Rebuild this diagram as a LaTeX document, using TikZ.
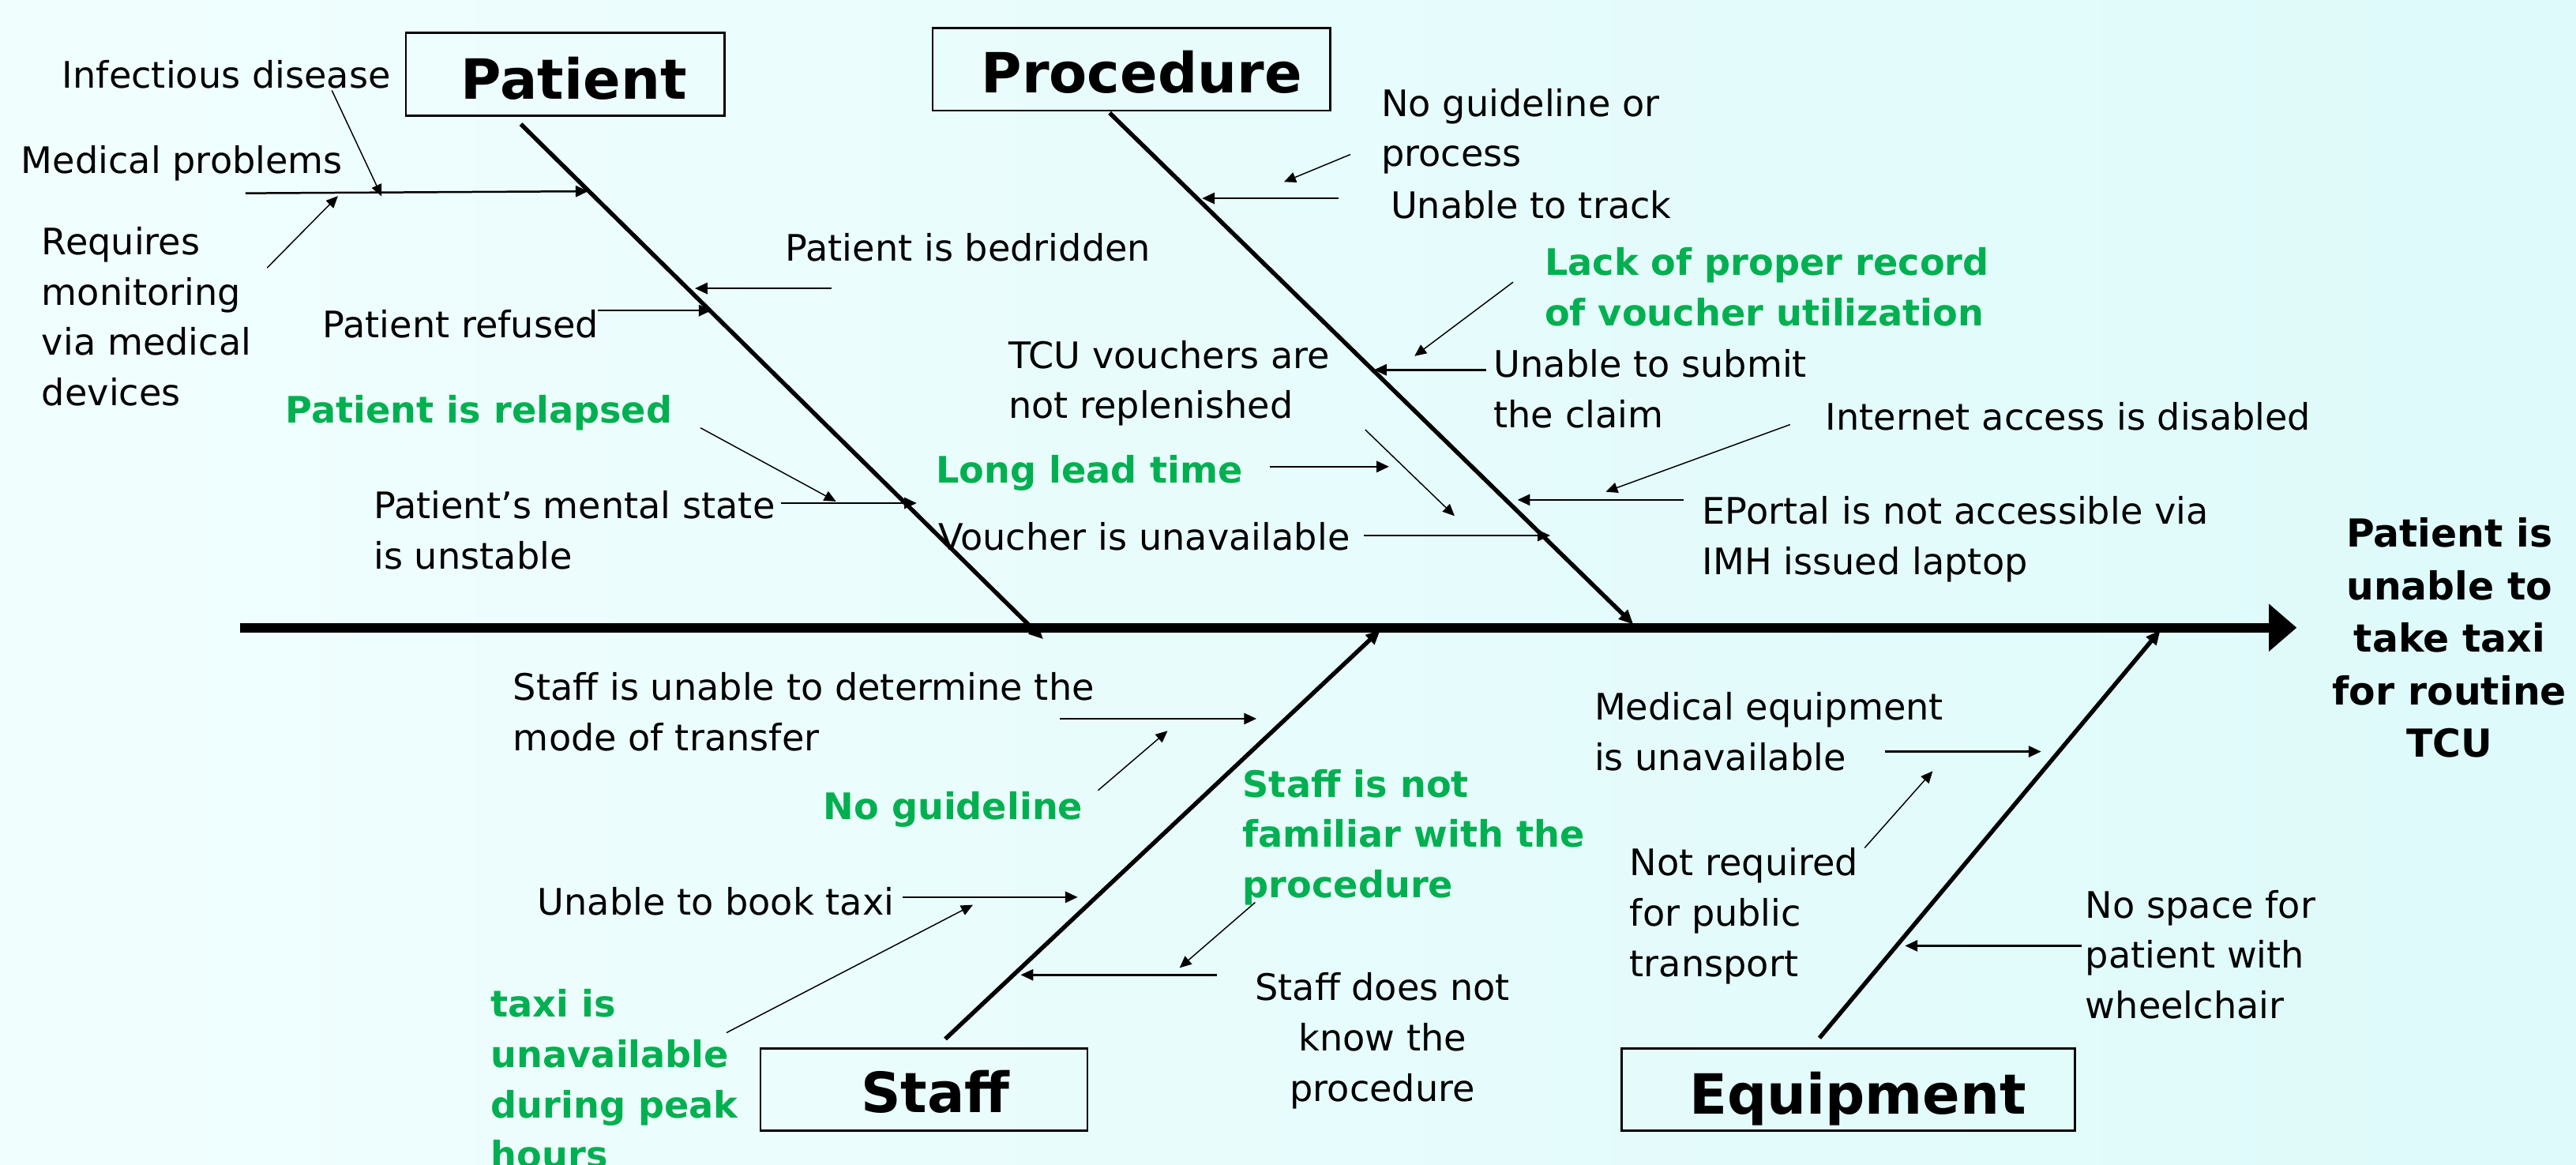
\documentclass[tikz,border=0pt]{standalone}
\usepackage{fontspec}
\setmainfont{DejaVu Sans}
\usetikzlibrary{arrows.meta}
\definecolor{causegreen}{RGB}{0,176,80}
\definecolor{bgleft}{RGB}{241,254,254}
\definecolor{bgright}{RGB}{222,250,250}
% multi-line labels whose base anchor is the first baseline
\newcommand{\leftlines}[1]{\begin{tabular}[t]{@{}l@{}}#1\end{tabular}}
\newcommand{\centerlines}[1]{\begin{tabular}[t]{@{}c@{}}#1\end{tabular}}

\begin{document}
\begin{tikzpicture}[x=0.5mm,y=-0.5mm,
  lbl/.style={inner sep=0pt, anchor=base west, font=\fontsize{31.6}{43.6}\selectfont},
  keylbl/.style={lbl, font=\bfseries\fontsize{31.6}{43.6}\selectfont, text=causegreen},
  catbox/.style={draw, line width=0.6mm, inner sep=0pt},
  cattitle/.style={inner sep=0pt, anchor=base, font=\bfseries\fontsize{48}{58}\selectfont},
  effect/.style={inner sep=0pt, anchor=base, font=\bfseries\fontsize{33.4}{45.5}\selectfont},
  spine/.style={line width=2.9mm, -{Triangle[length=8.5mm,width=14mm]}},
  bone/.style={line width=1.3mm, -{Triangle[length=4.4mm,width=3.8mm]}},
  subarrow/.style={line width=0.6mm, -{Triangle[length=3.8mm,width=3.4mm]}},
  twig/.style={line width=0.35mm, -{Triangle[length=3.6mm,width=3.2mm]}},
]
\useasboundingbox (0,0) rectangle (1568,709);
\clip (0,0) rectangle (1568,709);
\fill[left color=bgleft, right color=bgright] (0,0) rectangle (1568,709);

% ---------- spine and effect ----------
\coordinate (tail) at (146,382);
\coordinate (head) at (1398,382);
\draw[spine] (tail) -- (head);
\node[effect] (effect) at (1491,333) {\centerlines{Patient is\\unable to\\take taxi\\for routine\\TCU}};

% ---------- category boxes ----------
\node[catbox, minimum width=97mm, minimum height=25.2mm] (patientbox) at (344,45.2) {};
\node[cattitle] (patientlbl) at (349.3,60.4) {Patient};
\node[catbox, minimum width=121mm, minimum height=25.2mm] (procbox) at (688.6,42.2) {};
\node[cattitle] (proclbl) at (694.9,56.7) {Procedure};
\node[catbox, minimum width=99.4mm, minimum height=25mm] (staffbox) at (562.4,663) {};
\node[cattitle] (stafflbl) at (569.4,677) {Staff};
\node[catbox, minimum width=138mm, minimum height=25mm] (equipbox) at (1125,663) {};
\node[cattitle] (equiplbl) at (1130.9,677.9) {Equipment};

% ---------- main bones ----------
\coordinate (pat0) at (317,75.5);   \coordinate (pat1) at (635,389);
\coordinate (pro0) at (675.4,68.7); \coordinate (pro1) at (994.2,380);
\coordinate (sta0) at (575.4,632.3); \coordinate (sta1) at (840.2,383.4);
\coordinate (equ0) at (1107.5,631.7); \coordinate (equ1) at (1315,383.5);
\draw[bone] (pat0) -- (pat1);
\draw[bone] (pro0) -- (pro1);
\draw[bone] (sta0) -- (sta1);
\draw[bone] (equ0) -- (equ1);

% ---------- Patient causes ----------
\node[lbl] (infect) at (37.8,53.6) {Infectious disease};
\node[lbl] (medprob) at (12.8,105.6) {Medical problems};
\node[lbl] (monitor) at (25.3,154.9) {\leftlines{Requires\\monitoring\\via medical\\devices}};
\node[lbl] (bedrid) at (478,158.8) {Patient is bedridden};
\node[lbl] (refused) at (196.2,205.5) {Patient refused};
\node[keylbl] (relapse) at (173.7,257.2) {Patient is relapsed};
\node[lbl] (mental) at (227.4,315.7) {\leftlines{Patient’s mental state\\is unstable}};

\coordinate (mp0) at (149.4,117.6); \coordinate (mp1) at (358,116.4);
\coordinate (in0) at (202,55);      \coordinate (in1) at (232.3,119.5);
\coordinate (mo0) at (162.6,163);   \coordinate (mo1) at (205.7,119.3);
\coordinate (bd0) at (506,175.5);   \coordinate (bd1) at (423,175.5);
\coordinate (rf0) at (364,189);     \coordinate (rf1) at (433,189);
\coordinate (rl0) at (426.4,260.4); \coordinate (rl1) at (508.9,305.2);
\coordinate (ms0) at (475.2,306.2); \coordinate (ms1) at (558,306.2);
\draw[subarrow] (mp0) -- (mp1);
\draw[twig] (in0) -- (in1);
\draw[twig] (mo0) -- (mo1);
\draw[subarrow] (bd0) -- (bd1);
\draw[subarrow] (rf0) -- (rf1);
\draw[twig] (rl0) -- (rl1);
\draw[subarrow] (ms0) -- (ms1);

% ---------- Procedure causes ----------
\node[lbl] (noguide) at (840.7,70.7) {\leftlines{No guideline or\\process}};
\node[lbl] (track) at (846.4,133) {Unable to track};
\node[keylbl] (record) at (940.1,167.4) {\leftlines{Lack of proper record\\of voucher utilization}};
\node[lbl] (tcu) at (613.7,224) {\leftlines{TCU vouchers are\\not replenished}};
\node[lbl] (submit) at (909.1,229.7) {\leftlines{Unable to submit\\the claim}};
\node[lbl] (internet) at (1111,261.8) {Internet access is disabled};
\node[keylbl] (lead) at (569.6,294) {Long lead time};
\node[lbl] (voucher) at (571,334.9) {Voucher is unavailable};
\node[lbl] (eportal) at (1036.1,319.1) {\leftlines{EPortal is not accessible via\\IMH issued laptop}};

\coordinate (ng0) at (822,94);      \coordinate (ng1) at (781.6,110.7);
\coordinate (tr0) at (814.7,120.7); \coordinate (tr1) at (731.7,120.7);
\coordinate (rc0) at (921,171.7);   \coordinate (rc1) at (861,216.7);
\coordinate (sb0) at (904.7,225.1); \coordinate (sb1) at (836.4,225.1);
\coordinate (tc0) at (831,261.5);   \coordinate (tc1) at (885.4,314);
\coordinate (ld0) at (772.9,284);   \coordinate (ld1) at (845.5,284);
\coordinate (vo0) at (830,325.9);   \coordinate (vo1) at (943.6,325.9);
\coordinate (ia0) at (1089.6,258.4); \coordinate (ia1) at (977.4,299.3);
\coordinate (ep0) at (1024.8,304.2); \coordinate (ep1) at (923.7,304.2);
\draw[twig] (ng0) -- (ng1);
\draw[subarrow] (tr0) -- (tr1);
\draw[twig] (rc0) -- (rc1);
\draw[subarrow] (sb0) -- (sb1);
\draw[twig] (tc0) -- (tc1);
\draw[subarrow] (ld0) -- (ld1);
\draw[subarrow] (vo0) -- (vo1);
\draw[twig] (ia0) -- (ia1);
\draw[subarrow] (ep0) -- (ep1);

% ---------- Staff causes ----------
\node[lbl] (mode) at (312.3,426.1) {\leftlines{Staff is unable to determine the\\mode of transfer}};
\node[keylbl] (noguide2) at (501,498.9) {No guideline};
\node[keylbl] (familiar) at (756.3,485.1) {\leftlines{Staff is not\\familiar with the\\procedure}};
\node[lbl] (book) at (327,557.1) {Unable to book taxi};
\node[keylbl] (peak) at (298.7,618.9) {\leftlines{taxi is\\unavailable\\during peak\\hours}};
\node[lbl, anchor=base] (knownot) at (841.5,608.9) {\centerlines{Staff does not\\know the\\procedure}};

\coordinate (md0) at (645,437.4);   \coordinate (md1) at (764.8,437.4);
\coordinate (g20) at (668.4,481);   \coordinate (g21) at (710.7,444.8);
\coordinate (bk0) at (549.5,546);   \coordinate (bk1) at (656,546);
\coordinate (pk0) at (442.2,628.5); \coordinate (pk1) at (592.2,550.7);
\coordinate (fm0) at (764,549.2);   \coordinate (fm1) at (718,589);
\coordinate (kn0) at (740.7,593.3); \coordinate (kn1) at (621.3,593.3);
\draw[subarrow] (md0) -- (md1);
\draw[twig] (g20) -- (g21);
\draw[subarrow] (bk0) -- (bk1);
\draw[twig] (pk0) -- (pk1);
\draw[twig] (fm0) -- (fm1);
\draw[subarrow] (kn0) -- (kn1);

% ---------- Equipment causes ----------
\node[lbl] (medequip) at (970.4,438.2) {\leftlines{Medical equipment\\is unavailable}};
\node[lbl] (public) at (991.9,533) {\leftlines{Not required\\for public\\transport}};
\node[lbl] (wheel) at (1269.3,558.6) {\leftlines{No space for\\patient with\\wheelchair}};

\coordinate (me0) at (1147.3,457.4); \coordinate (me1) at (1242.4,457.4);
\coordinate (pb0) at (1135,516);     \coordinate (pb1) at (1176.4,469.3);
\coordinate (wc0) at (1266.9,575.6); \coordinate (wc1) at (1159.6,575.6);
\draw[subarrow] (me0) -- (me1);
\draw[twig] (pb0) -- (pb1);
\draw[subarrow] (wc0) -- (wc1);
\end{tikzpicture}
\end{document}
